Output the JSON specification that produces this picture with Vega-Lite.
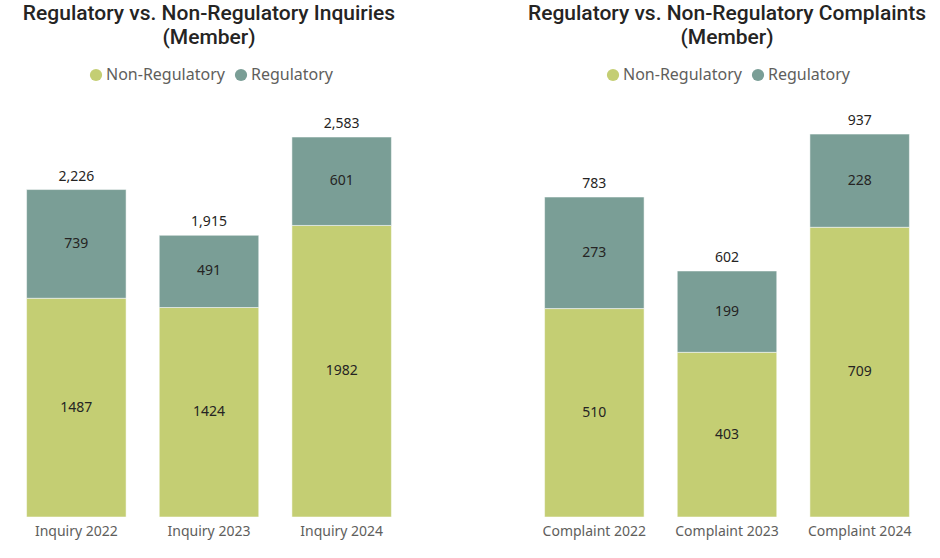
{
  "$schema": "https://vega.github.io/schema/vega-lite/v6.json",
  "padding": {"left": 10, "top": 3, "right": 5, "bottom": 5},
  "background": "white",
  "datasets": {
    "inq": [
      {"category": "Inquiry 2022", "type": "Non-Regulatory", "ord": 1, "value": 1487},
      {"category": "Inquiry 2022", "type": "Regulatory", "ord": 2, "value": 739},
      {"category": "Inquiry 2023", "type": "Non-Regulatory", "ord": 1, "value": 1424},
      {"category": "Inquiry 2023", "type": "Regulatory", "ord": 2, "value": 491},
      {"category": "Inquiry 2024", "type": "Non-Regulatory", "ord": 1, "value": 1982},
      {"category": "Inquiry 2024", "type": "Regulatory", "ord": 2, "value": 601}
    ],
    "comp": [
      {"category": "Complaint 2022", "type": "Non-Regulatory", "ord": 1, "value": 510},
      {"category": "Complaint 2022", "type": "Regulatory", "ord": 2, "value": 273},
      {"category": "Complaint 2023", "type": "Non-Regulatory", "ord": 1, "value": 403},
      {"category": "Complaint 2023", "type": "Regulatory", "ord": 2, "value": 199},
      {"category": "Complaint 2024", "type": "Non-Regulatory", "ord": 1, "value": 709},
      {"category": "Complaint 2024", "type": "Regulatory", "ord": 2, "value": 228}
    ]
  },
  "hconcat": [
    {
      "width": 398,
      "height": 416,
      "title": {"text": ["Regulatory vs. Non-Regulatory Inquiries", "(Member)"]},
      "data": {"name": "inq"},
      "transform": [
        {"stack": "value", "groupby": ["category"], "sort": [{"field": "ord"}], "as": ["v0", "v1"]},
        {"calculate": "(datum.v0 + datum.v1) / 2", "as": "mid"}
      ],
      "layer": [
        {
          "mark": {"type": "bar", "stroke": "#ffffff", "strokeOpacity": 0.5, "strokeWidth": 1},
          "encoding": {
            "x": {"field": "category", "type": "nominal", "sort": null, "scale": {"paddingInner": 0.25, "paddingOuter": 0.125}, "axis": {"title": null, "labelAngle": 0}},
            "y": {"field": "v0", "type": "quantitative", "scale": {"domain": [0, 2828], "nice": false}, "axis": null},
            "y2": {"field": "v1"},
            "color": {"field": "type", "type": "nominal", "scale": {"domain": ["Non-Regulatory", "Regulatory"], "range": ["#C4CE73", "#7A9E96"]},
              "legend": {"title": null, "orient": "none", "direction": "horizontal", "legendX": 78, "legendY": -34}}
          }
        },
        {
          "mark": {"type": "text", "fontSize": 14, "color": "#252423", "font": "Noto Sans", "baseline": "middle"},
          "encoding": {
            "x": {"field": "category", "type": "nominal", "sort": null},
            "y": {"field": "mid", "type": "quantitative"},
            "text": {"field": "value", "type": "quantitative", "format": "d"}
          }
        },
        {
          "transform": [{"aggregate": [{"op": "sum", "field": "value", "as": "total"}], "groupby": ["category"]}],
          "mark": {"type": "text", "fontSize": 14, "color": "#252423", "font": "Noto Sans", "baseline": "bottom", "dy": -6},
          "encoding": {
            "x": {"field": "category", "type": "nominal", "sort": null},
            "y": {"field": "total", "type": "quantitative"},
            "text": {"field": "total", "type": "quantitative", "format": ","}
          }
        }
      ]
    },
    {
      "width": 398,
      "height": 416,
      "title": {"text": ["Regulatory vs. Non-Regulatory Complaints", "(Member)"]},
      "data": {"name": "comp"},
      "transform": [
        {"stack": "value", "groupby": ["category"], "sort": [{"field": "ord"}], "as": ["v0", "v1"]},
        {"calculate": "(datum.v0 + datum.v1) / 2", "as": "mid"}
      ],
      "layer": [
        {
          "mark": {"type": "bar", "stroke": "#ffffff", "strokeOpacity": 0.5, "strokeWidth": 1},
          "encoding": {
            "x": {"field": "category", "type": "nominal", "sort": null, "scale": {"paddingInner": 0.25, "paddingOuter": 0.125}, "axis": {"title": null, "labelAngle": 0}},
            "y": {"field": "v0", "type": "quantitative", "scale": {"domain": [0, 1018], "nice": false}, "axis": null},
            "y2": {"field": "v1"},
            "color": {"field": "type", "type": "nominal", "scale": {"domain": ["Non-Regulatory", "Regulatory"], "range": ["#C4CE73", "#7A9E96"]},
              "legend": {"title": null, "orient": "none", "direction": "horizontal", "legendX": 77, "legendY": -34}}
          }
        },
        {
          "mark": {"type": "text", "fontSize": 14, "color": "#252423", "font": "Noto Sans", "baseline": "middle"},
          "encoding": {
            "x": {"field": "category", "type": "nominal", "sort": null},
            "y": {"field": "mid", "type": "quantitative"},
            "text": {"field": "value", "type": "quantitative", "format": "d"}
          }
        },
        {
          "transform": [{"aggregate": [{"op": "sum", "field": "value", "as": "total"}], "groupby": ["category"]}],
          "mark": {"type": "text", "fontSize": 14, "color": "#252423", "font": "Noto Sans", "baseline": "bottom", "dy": -6},
          "encoding": {
            "x": {"field": "category", "type": "nominal", "sort": null},
            "y": {"field": "total", "type": "quantitative"},
            "text": {"field": "total", "type": "quantitative", "format": ","}
          }
        }
      ]
    }
  ],
  "resolve": {"scale": {"y": "independent", "x": "independent", "color": "independent"}, "legend": {"color": "independent"}},
  "spacing": 119,
  "config": {
    "view": {"stroke": null},
    "title": {"font": "Roboto", "fontSize": 21, "fontWeight": 500, "color": "#252423", "anchor": "middle", "lineHeight": 24, "offset": 19},
    "axis": {"domain": false, "ticks": false, "grid": false, "labelFont": "Noto Sans", "labelFontSize": 14, "labelColor": "#605E5C", "labelPadding": 7},
    "legend": {"labelFont": "Noto Sans", "labelFontSize": 16, "labelColor": "#605E5C", "symbolType": "circle", "symbolSize": 150, "symbolStrokeWidth": 0, "labelOffset": 2, "columnPadding": 8}
  }
}
